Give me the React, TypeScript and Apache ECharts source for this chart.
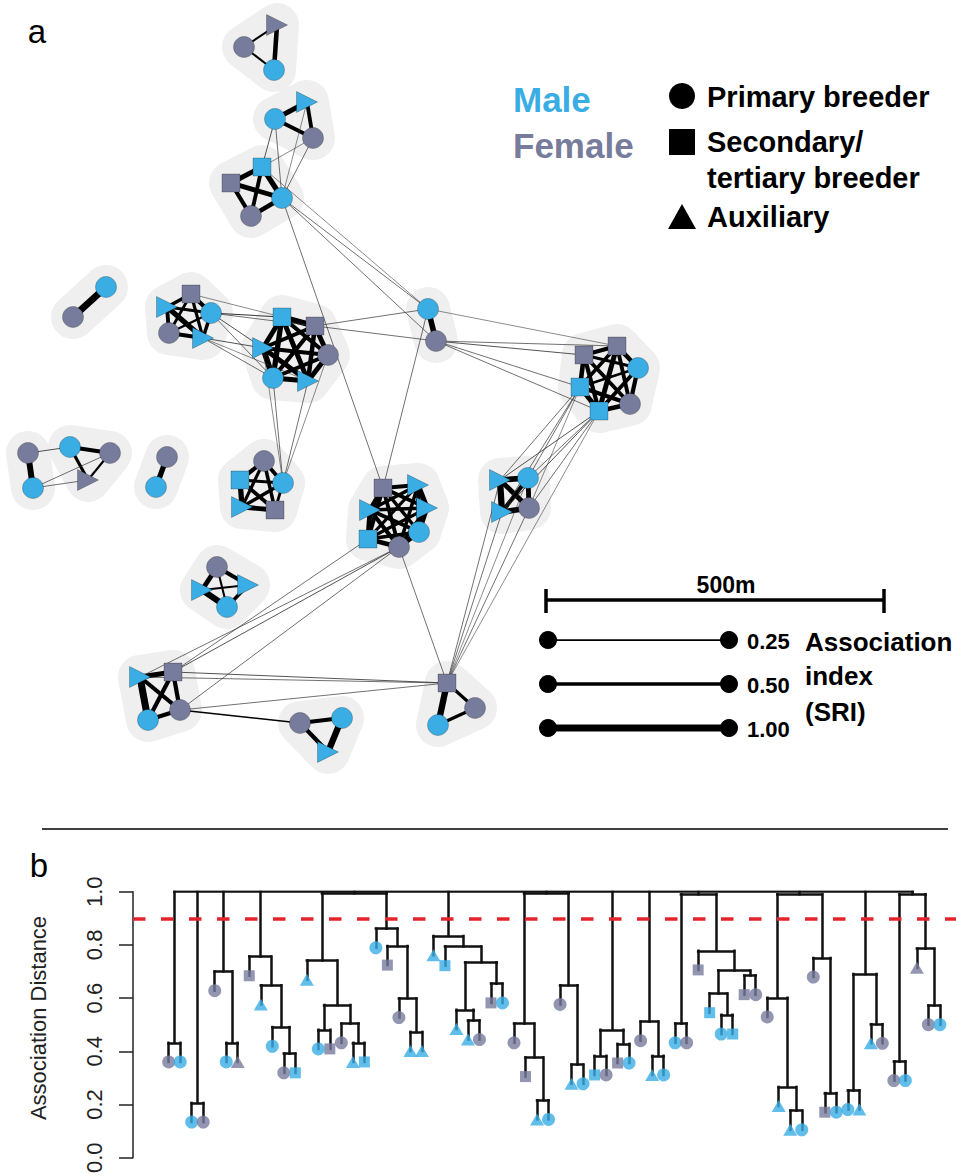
import React, { useEffect, useRef } from "react";
import * as echarts from "echarts";

const MALE = "#3AADE4";
const FEMALE = "#787C9C";
const HULL = "#EEEFEE";
const FONT = "'Liberation Sans', Arial, Helvetica, sans-serif";

// ---------- Panel a: social network (map units, y grows downward) ----------
const groupSizes = [3, 3, 4, 2, 5, 6, 2, 6, 4, 3, 2, 3, 2, 5, 4, 7, 4, 3];
const nodeX = [277, 244, 274, 275, 307, 313, 262, 231, 282, 251, 106, 73, 191, 167, 211, 169, 203, 282, 315, 263, 328, 273, 308, 428, 436, 584, 617, 638, 580, 630, 599, 500, 528, 502, 529, 447, 475, 438, 28, 33, 70, 110, 88, 167, 156, 264, 240, 283, 242, 275, 217, 202, 248, 227, 383, 418, 370, 427, 419, 368, 399, 140, 173, 148, 180, 300, 342, 328];
const nodeY = [25, 47, 70, 119, 102, 138, 167, 183, 198, 216, 287, 317, 294, 307, 313, 333, 338, 317, 326, 348, 355, 378, 381, 309, 341, 355, 346, 368, 387, 404, 411, 480, 478, 512, 508, 683, 708, 725, 453, 488, 447, 453, 480, 457, 487, 461, 480, 483, 507, 510, 567, 590, 585, 607, 488, 485, 510, 508, 532, 539, 547, 677, 672, 720, 710, 723, 718, 752];
const nodeSex = "FFMMMFMFMFMFFMMFMMFMFMMMFFFMMFMMMMFFFMFMMFFFMFMMMFFMMMFMMMMMFMFMFFMM".split("");
const nodeRole = "APPPAPSSPPPPSAPPASSAPPAPPSSPSPSAPAPSPPPPPPAPPPSPASPAAPSAAAPSPASPPPPA".split("");

// [from, to, association index (SRI)]
const edgeList: [number, number, number][] = [
  [0, 1, 0.3], [0, 2, 0.65], [1, 2, 0.3],
  [3, 4, 0.7], [4, 5, 0.55], [3, 5, 0.55],
  [6, 7, 0.7], [6, 8, 0.75], [6, 9, 0.55], [7, 8, 0.7], [7, 9, 0.6], [8, 9, 0.65],
  [10, 11, 1.0],
  [12, 13, 0.5], [12, 14, 0.6], [12, 15, 0.4], [12, 16, 0.45], [13, 14, 0.4], [13, 15, 0.55], [13, 16, 0.75], [14, 15, 0.35], [14, 16, 0.5], [15, 16, 0.6],
  [17, 18, 0.8], [17, 19, 0.7], [17, 20, 0.6], [17, 21, 0.75], [17, 22, 0.7], [18, 19, 0.55], [18, 20, 0.7], [18, 21, 0.6], [18, 22, 0.65], [19, 20, 0.6], [19, 21, 0.8], [19, 22, 0.7], [20, 21, 0.55], [20, 22, 0.7], [21, 22, 0.75],
  [23, 24, 0.8],
  [25, 26, 0.6], [25, 27, 0.45], [25, 28, 0.65], [25, 29, 0.55], [25, 30, 0.6], [26, 27, 0.65], [26, 28, 0.5], [26, 29, 0.55], [26, 30, 0.7], [27, 28, 0.35], [27, 29, 0.6], [27, 30, 0.55], [28, 29, 0.6], [28, 30, 0.7], [29, 30, 0.65],
  [31, 32, 0.8], [31, 33, 0.9], [31, 34, 0.7], [32, 33, 0.6], [32, 34, 0.7], [33, 34, 0.8],
  [35, 37, 0.9], [35, 36, 0.45], [36, 37, 0.45],
  [38, 39, 0.85],
  [40, 41, 0.6], [40, 42, 0.45], [41, 42, 0.3],
  [43, 44, 0.75],
  [45, 46, 0.6], [45, 47, 0.55], [45, 48, 0.45], [45, 49, 0.5], [46, 47, 0.45], [46, 48, 0.75], [46, 49, 0.55], [47, 48, 0.5], [47, 49, 0.4], [48, 49, 0.7],
  [50, 51, 0.7], [50, 52, 0.6], [51, 53, 0.9], [52, 53, 0.5], [51, 52, 0.3], [50, 53, 0.3],
  [54, 55, 0.6], [54, 56, 0.7], [54, 57, 0.55], [54, 58, 0.5], [54, 59, 0.6], [54, 60, 0.55], [55, 56, 0.5], [55, 57, 0.75], [55, 58, 0.6], [55, 59, 0.45], [55, 60, 0.5], [56, 57, 0.5], [56, 58, 0.55], [56, 59, 0.7], [56, 60, 0.6], [57, 58, 0.65], [57, 59, 0.45], [57, 60, 0.55], [58, 59, 0.5], [58, 60, 0.7], [59, 60, 0.65],
  [61, 62, 0.7], [61, 63, 1.0], [61, 64, 0.6], [62, 63, 0.6], [62, 64, 0.6], [63, 64, 0.6],
  [65, 66, 0.55], [65, 67, 0.6], [66, 67, 0.9],
  // between groups
  [38, 40, 0.12], [39, 41, 0.1], [39, 42, 0.1],
  [3, 6, 0.12], [3, 8, 0.1], [4, 8, 0.08], [5, 8, 0.1], [5, 6, 0.08],
  [8, 23, 0.1], [8, 24, 0.1], [6, 23, 0.08],
  [8, 54, 0.1], [23, 54, 0.1],
  [14, 17, 0.15], [14, 18, 0.1], [14, 19, 0.12], [14, 21, 0.1], [16, 19, 0.12], [16, 21, 0.1], [16, 22, 0.08], [12, 17, 0.08],
  [18, 23, 0.1], [18, 24, 0.1],
  [24, 25, 0.12], [24, 26, 0.1], [24, 28, 0.1], [24, 30, 0.1], [23, 26, 0.08],
  [21, 47, 0.1], [22, 47, 0.1], [20, 47, 0.08], [19, 47, 0.08],
  [28, 31, 0.1], [28, 32, 0.1], [28, 33, 0.1], [30, 31, 0.12], [30, 32, 0.1], [30, 33, 0.12], [30, 34, 0.1], [28, 34, 0.08],
  [31, 35, 0.1], [33, 35, 0.1], [34, 35, 0.1], [32, 35, 0.08], [30, 35, 0.08],
  [60, 35, 0.1],
  [60, 61, 0.1], [60, 62, 0.12], [59, 62, 0.1], [60, 64, 0.1],
  [62, 35, 0.12], [61, 35, 0.1], [64, 35, 0.1],
  [64, 65, 0.22],
];

const sriLegend = [0.25, 0.5, 1.0];
const scaleBarLabel = "500m";

// ---------- Panel b: dendrogram ----------
const leafSex = "FMMFFMFFMMFMMMFFMMMFFMMMMMMFFMFFMMFMMMFFMFMMMFFMMMFFFMMMFFMMMMFFMFFM".split("");
const leafRole = "PPPPPPASAPPSAPSPASPSPAAASAAPSPPSAPPAPSPSPPAPPPSSPSSPPAAPPSPPAAPPPAPP".split("");
type Tree = any;
const clusters: Tree[] = [
  [0.432, 1, 2],
  [0.206, 3, 4],
  [0.70, 5, [0.432, 6, 7]],
  [0.756, 8, [0.648, 9, [0.491, 10, [0.391, 11, 12]]]],
  [0.994, [0.741, 13, [0.574, [0.481, 14, 15], [0.504, 16, [0.432, 17, 18]]]], [0.861, 19, [0.796, 20, [0.599, 21, [0.473, 22, 23]]]]],
  [0.833, 24, [0.794, 25, [0.735, [0.556, 26, [0.516, 27, 28]], [0.654, 29, 30]]]],
  [0.994, [0.504, 31, [0.377, 32, [0.216, 33, 34]]], [0.648, 35, [0.35, 36, 37]]],
  [0.481, [0.383, 38, 39], [0.428, 40, 41]],
  [0.512, 42, [0.383, 43, 44]],
  [0.99, [0.504, 45, 46], [0.778, 47, [0.704, [0.617, 48, [0.537, 49, 50]], [0.685, 51, 52]]]],
  [0.99, [0.601, 53, [0.266, 54, [0.177, 55, 56]]], [0.751, 57, [0.243, 58, 59]]],
  [0.691, [0.253, 60, 61], [0.502, 62, 63]],
  [0.99, [0.362, 64, 65], [0.786, 66, [0.572, 67, 68]]],
];
const rootHeight = 1.0;
const cutHeight = 0.9;
const HANG = 0.072;

function layoutTree(node: Tree, segs: number[][][], leaves: number[][], parentH: number): { x: number; top: number } {
  if (typeof node === "number") {
    const top = parentH - HANG;
    leaves.push([node, top]);
    return { x: node, top };
  }
  const h = node[0];
  const kids = node.slice(1);
  const res = kids.map((k: Tree) => layoutTree(k, segs, leaves, h));
  res.forEach((r: any) => segs.push([[r.x, r.top], [r.x, h]]));
  segs.push([[res[0].x, h], [res[res.length - 1].x, h]]);
  return { x: (res[0].x + res[res.length - 1].x) / 2, top: h };
}

function convexHull(pts: number[][]) {
  const p = pts.slice().sort((a, b) => a[0] - b[0] || a[1] - b[1]);
  if (p.length < 3) return p;
  const cross = (o: number[], a: number[], b: number[]) => (a[0] - o[0]) * (b[1] - o[1]) - (a[1] - o[1]) * (b[0] - o[0]);
  const lower: number[][] = [];
  for (const q of p) {
    while (lower.length >= 2 && cross(lower[lower.length - 2], lower[lower.length - 1], q) <= 0) lower.pop();
    lower.push(q);
  }
  const upper: number[][] = [];
  for (const q of p.slice().reverse()) {
    while (upper.length >= 2 && cross(upper[upper.length - 2], upper[upper.length - 1], q) <= 0) upper.pop();
    upper.push(q);
  }
  upper.pop();
  lower.pop();
  return lower.concat(upper);
}

const symbolOf = (r: string) => (r === "P" ? "circle" : r === "S" ? "rect" : "triangle");

export default function App() {
  const ref = useRef<HTMLDivElement>(null);
  useEffect(() => {
    if (!ref.current) return;
    const chart = echarts.init(ref.current, undefined, { renderer: "svg" });

    const nodeGroup: number[] = [];
    groupSizes.forEach((s, g) => {
      for (let i = 0; i < s; i++) nodeGroup.push(g);
    });

    const nodes = nodeX.map((x, i) => {
      const role = nodeRole[i];
      return {
        value: [x, nodeY[i]],
        symbol: symbolOf(role),
        symbolSize: role === "P" ? 21 : role === "S" ? 18 : 21,
        symbolRotate: role === "A" ? -90 : 0,
        itemStyle: {
          color: nodeSex[i] === "M" ? MALE : FEMALE,
          borderColor: "rgba(0,0,0,0.35)",
          borderWidth: 0.7,
        },
      };
    });
    const links = edgeList.map(([s, t, w]) => ({
      source: s,
      target: t,
      lineStyle: { width: Math.max(0.55, 7 * w), color: w < 0.2 ? "#333" : "#000" },
    }));

    // dendrogram layout
    const segs: number[][][] = [];
    const leaves: number[][] = [];
    const tops = clusters.map((c) => layoutTree(c, segs, leaves, rootHeight));
    tops.forEach((t) => segs.push([[t.x, t.top], [t.x, rootHeight]]));
    segs.push([[tops[0].x, rootHeight], [tops[tops.length - 1].x, rootHeight]]);

    const leafData = leaves.map(([i, y]) => {
      const role = leafRole[i - 1];
      return {
        value: [i, y],
        symbol: symbolOf(role),
        symbolSize: role === "P" ? 13 : role === "S" ? 11 : [14, 12],
        itemStyle: { color: leafSex[i - 1] === "M" ? MALE : FEMALE },
      };
    });

    const R = 22;
    const txt = (text: string, x: number, y: number, size: number, opts: any = {}) => ({
      type: "text",
      x,
      y,
      rotation: opts.rotation || 0,
      silent: true,
      style: {
        text,
        fill: opts.fill || "#000",
        fontSize: size,
        fontWeight: opts.weight || "bold",
        fontFamily: FONT,
        align: opts.align || "left",
        verticalAlign: "middle",
      },
    });

    const graphics: any[] = [
      txt("a", 37, 31, 33, { weight: "normal", align: "center" }),
      txt("b", 39, 865, 33, { weight: "normal", align: "center" }),
      txt("Male", 513, 99, 35, { fill: MALE }),
      txt("Female", 513, 145, 35, { fill: FEMALE }),
      { type: "circle", shape: { cx: 682, cy: 96, r: 13 }, style: { fill: "#000" }, silent: true },
      { type: "rect", shape: { x: 669, y: 129, width: 26, height: 26 }, style: { fill: "#000" }, silent: true },
      { type: "polygon", shape: { points: [[682, 204], [668, 229], [696, 229]] }, style: { fill: "#000" }, silent: true },
      txt("Primary breeder", 707, 97, 29),
      txt("Secondary/", 707, 142, 29),
      txt("tertiary breeder", 707, 178, 29),
      txt("Auxiliary", 707, 217, 29),
      // scale bar
      { type: "line", shape: { x1: 546, y1: 600, x2: 884, y2: 600 }, style: { stroke: "#000", lineWidth: 3.5 }, silent: true },
      { type: "line", shape: { x1: 546, y1: 589, x2: 546, y2: 613 }, style: { stroke: "#000", lineWidth: 3.5 }, silent: true },
      { type: "line", shape: { x1: 884, y1: 589, x2: 884, y2: 613 }, style: { stroke: "#000", lineWidth: 3.5 }, silent: true },
      txt(scaleBarLabel, 726, 585, 23, { align: "center" }),
      txt("Association", 805, 642, 26),
      txt("index", 805, 676, 26),
      txt("(SRI)", 805, 712, 26),
      // separator
      { type: "line", shape: { x1: 42, y1: 829, x2: 948, y2: 829 }, style: { stroke: "#000", lineWidth: 1.4 }, silent: true },
      txt("Association Distance", 38, 1018, 22, { weight: "normal", align: "center", rotation: Math.PI / 2, fill: "#222" }),
    ];
    sriLegend.forEach((v, k) => {
      const y = 640 + k * 44;
      graphics.push(
        { type: "line", shape: { x1: 548, y1: y, x2: 729, y2: y }, style: { stroke: "#000", lineWidth: 7 * v }, silent: true },
        { type: "circle", shape: { cx: 548, cy: y, r: 9 }, style: { fill: "#000" }, silent: true },
        { type: "circle", shape: { cx: 729, cy: y, r: 9 }, style: { fill: "#000" }, silent: true },
        txt(v.toFixed(2), 747, y + 1, 22)
      );
    });

    chart.setOption({
      animation: false,
      grid: [
        { left: 0, top: 0, width: 956, height: 800 },
        { left: 133, top: 891.7, width: 823, height: 270 },
      ],
      xAxis: [
        { type: "value", gridIndex: 0, min: 0, max: 956, show: false },
        { type: "value", gridIndex: 1, min: -2.1, max: 69.4, show: false },
      ],
      yAxis: [
        { type: "value", gridIndex: 0, min: 0, max: 800, inverse: true, show: false },
        {
          type: "value",
          gridIndex: 1,
          min: 0,
          max: 1,
          interval: 0.2,
          axisLine: { show: true, onZero: false, lineStyle: { color: "#222", width: 1.5 } },
          axisTick: { show: true, length: 14, lineStyle: { color: "#222", width: 1.5 } },
          axisLabel: {
            rotate: 90,
            margin: 28,
            fontSize: 22,
            color: "#222",
            fontFamily: FONT,
            formatter: (v: number) => v.toFixed(1),
          },
          splitLine: { show: false },
        },
      ],
      series: [
        {
          type: "custom",
          xAxisIndex: 0,
          yAxisIndex: 0,
          z: 1,
          silent: true,
          data: groupSizes.map((_, g) => [g, 0]),
          renderItem: (params: any, api: any) => {
            const g = api.value(0);
            const pts: number[][] = [];
            nodeGroup.forEach((gg, i) => {
              if (gg === g) pts.push(api.coord([nodeX[i], nodeY[i]]));
            });
            const hull = convexHull(pts);
            return {
              type: "polygon",
              shape: { points: hull },
              style: { fill: HULL, stroke: HULL, lineWidth: 2 * R, lineJoin: "round", lineCap: "round" },
            };
          },
        },
        {
          type: "graph",
          coordinateSystem: "cartesian2d",
          xAxisIndex: 0,
          yAxisIndex: 0,
          z: 3,
          silent: true,
          layout: "none",
          data: nodes,
          links,
          lineStyle: { color: "#000", opacity: 1, curveness: 0 },
          label: { show: false },
          emphasis: { disabled: true },
        },
        {
          type: "lines",
          coordinateSystem: "cartesian2d",
          xAxisIndex: 1,
          yAxisIndex: 1,
          z: 2,
          silent: true,
          data: segs.map((c) => ({ coords: c })),
          lineStyle: { color: "#111", width: 2.5, opacity: 1, cap: "square" },
        },
        {
          type: "scatter",
          xAxisIndex: 1,
          yAxisIndex: 1,
          z: 4,
          silent: true,
          data: leafData,
          markLine: {
            silent: true,
            symbol: ["none", "none"],
            label: { show: false },
            lineStyle: { color: "#E3242B", type: [12.5, 15.5], width: 3.5 },
            data: [{ yAxis: cutHeight }],
          },
        },
      ],
      graphic: graphics,
    });
    return () => chart.dispose();
  }, []);
  return <div ref={ref} style={{ position: "absolute", left: 0, top: 0, width: 956, height: 1176 }} />;
}
